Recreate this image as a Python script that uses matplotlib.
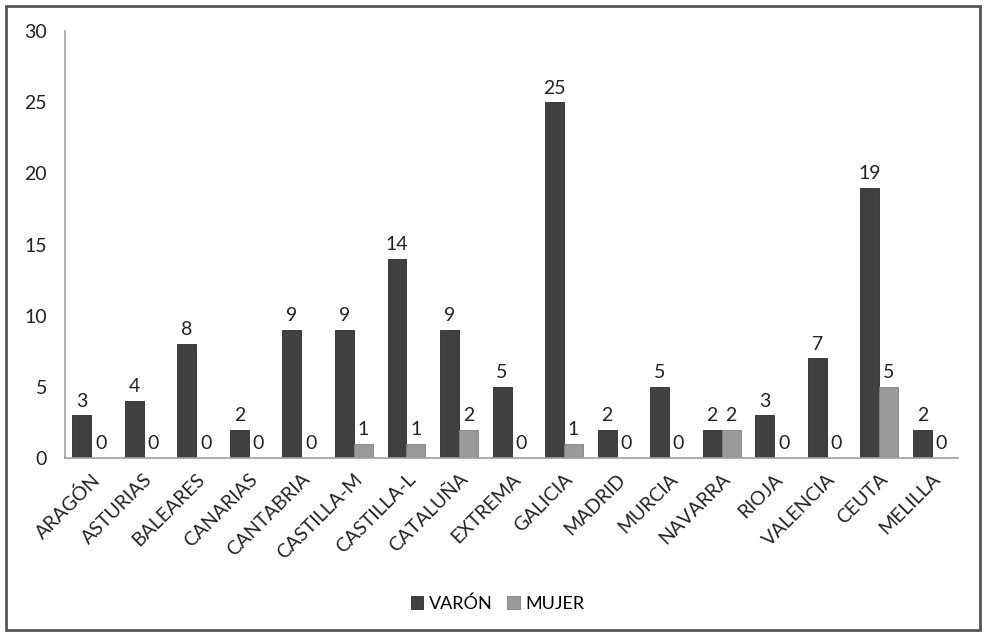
import numpy as np
import matplotlib
matplotlib.use("Agg")
import matplotlib.pyplot as plt
from matplotlib.patches import Rectangle

plt.rcParams["font.family"] = ["Lato", "DejaVu Sans"]

regiones = ["ARAGÓN", "ASTURIAS", "BALEARES", "CANARIAS", "CANTABRIA", "CASTILLA-M",
            "CASTILLA-L", "CATALUÑA", "EXTREMA", "GALICIA", "MADRID", "MURCIA",
            "NAVARRA", "RIOJA", "VALENCIA", "CEUTA", "MELILLA"]
varon = [3, 4, 8, 2, 9, 9, 14, 9, 5, 25, 2, 5, 2, 3, 7, 19, 2]
mujer = [0, 0, 0, 0, 0, 1, 1, 2, 0, 1, 0, 0, 2, 0, 0, 5, 0]

fig = plt.figure(figsize=(9.85, 6.34), dpi=100)
ax = fig.add_axes([0.066, 0.2776, 0.9066, 0.6734])

x = np.arange(len(regiones))
w = 0.36
b1 = ax.bar(x - w / 2, varon, w, color="#404040", edgecolor="#2a2a2a", linewidth=0.6, label="VARÓN")
b2 = ax.bar(x + w / 2, mujer, w, color="#9a9a9a", edgecolor="#808080", linewidth=0.6, label="MUJER")

for bars, vals in [(b1, varon), (b2, mujer)]:
    for bar, v in zip(bars, vals):
        ax.text(bar.get_x() + bar.get_width() / 2, v + 0.4, str(v),
                ha="center", va="bottom", fontsize=14, color="#222222")

ax.set_xlim(-0.5, len(regiones) - 0.5)
ax.set_ylim(0, 30)
ax.set_yticks(range(0, 31, 5))
ax.set_xticks(x)
ax.set_xticklabels(regiones, rotation=45, ha="right", rotation_mode="anchor", fontsize=13)
ax.tick_params(length=0, labelsize=14, colors="#222222")
ax.tick_params(axis="y", pad=13)
ax.tick_params(axis="x", pad=9)

for s in ["top", "right"]:
    ax.spines[s].set_visible(False)
for s in ["left", "bottom"]:
    ax.spines[s].set_color("#a0a0a0")
    ax.spines[s].set_linewidth(1.2)

fig.legend(handles=[b1, b2], loc="center", bbox_to_anchor=(0.505, 0.048), ncol=2,
           frameon=False, fontsize=13, handlelength=0.7, handleheight=0.7,
           handletextpad=0.3, columnspacing=0.8)

fig.patches.append(Rectangle((0.006, 0.006), 0.989, 0.985, transform=fig.transFigure,
                             fill=False, edgecolor="#555555", linewidth=2))

fig.savefig("out.png", dpi=100)
